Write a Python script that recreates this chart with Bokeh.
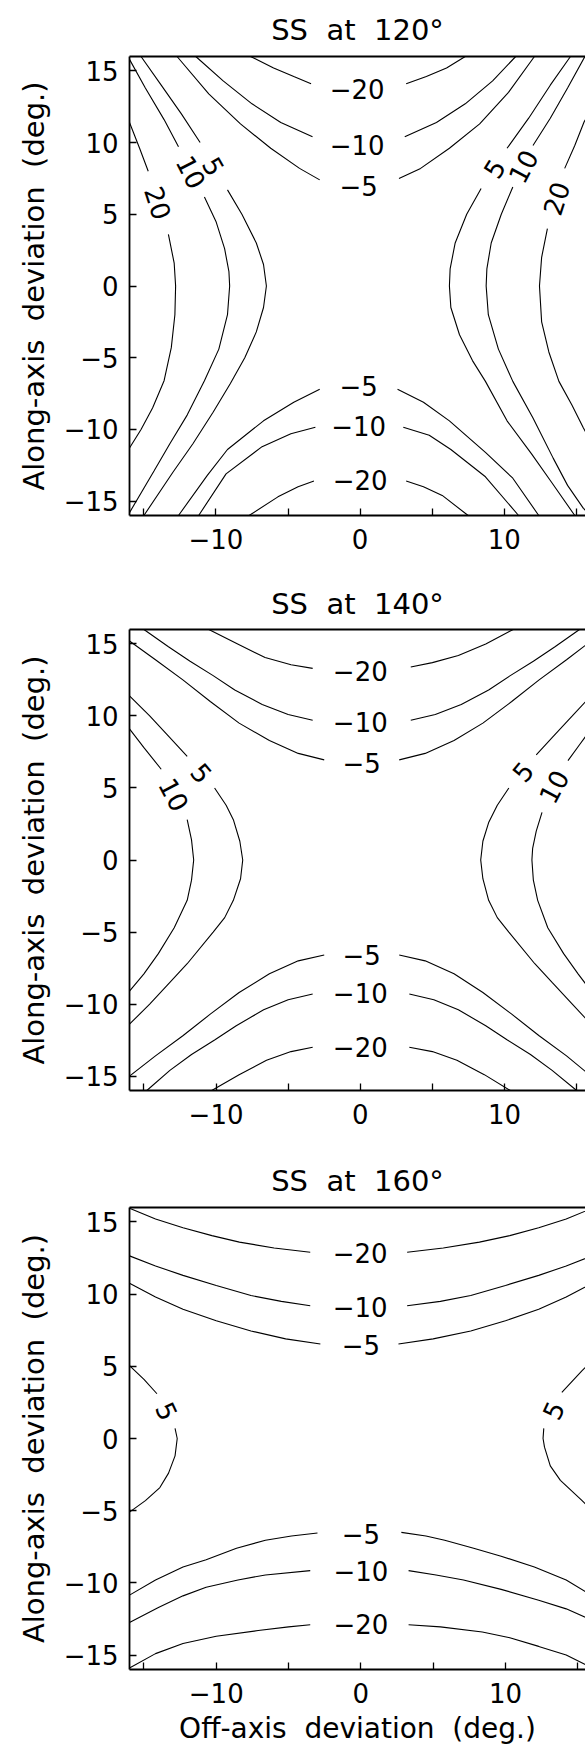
from bokeh.plotting import figure
from bokeh.layouts import column
from bokeh.models import ColumnDataSource, LinearAxis, FixedTicker, Range1d, Title
from bokeh.embed import file_html
from bokeh.resources import INLINE
from bokeh.core.properties import value

FONT = "DejaVu Sans"

# ---------------- data ----------------
TITLES = ["SS \u00a0at \u00a0120°", "SS \u00a0at \u00a0140°", "SS \u00a0at \u00a0160°"]
X_LABEL = "Off-axis \u00a0deviation \u00a0(deg.)"
Y_LABEL = "Along-axis \u00a0deviation \u00a0(deg.)"
TICKS = [-15, -10, -5, 0, 5, 10, 15]
X_TICK_TEXT = ["", "−10", "", "0", "", "10", ""]
Y_TICK_TEXT = ["−15", "−10", "−5", "0", "5", "10", "15"]

# Contour polylines (x list, y list); gaps are label gaps.
SS120_M20 = [
    ([-7.6, -6.0, -4.6, -3.4], [16.0, 15.2, 14.6, 14.1]),
    ([3.2, 4.6, 6.0, 7.3], [14.1, 14.6, 15.2, 16.0]),
    ([-7.7, -5.7, -4.3, -3.2], [-16.0, -14.7, -14.0, -13.6]),
    ([3.2, 4.4, 5.7, 7.5], [-13.6, -14.0, -14.6, -16.0]),
]
SS120_M10 = [
    ([-11.4, -9.5, -7.5, -5.5, -3.3], [16.0, 14.3, 12.7, 11.4, 10.4]),
    ([3.1, 5.3, 7.3, 9.2, 10.8], [10.4, 11.4, 12.7, 14.3, 16.0]),
    ([-11.2, -9.3, -6.8, -4.8, -3.1], [-16.0, -13.1, -11.2, -10.3, -9.85]),
    ([3.0, 4.8, 6.3, 8.7, 11.0], [-9.85, -10.4, -11.4, -13.3, -16.0]),
]
SS120_M5 = [
    ([-12.7, -10.5, -8.3, -6.2, -4.2, -2.8], [16.0, 13.4, 11.3, 9.6, 8.2, 7.4]),
    ([2.7, 4.2, 6.2, 8.3, 10.3, 12.1], [7.5, 8.2, 9.6, 11.3, 13.5, 16.0]),
    ([-12.6, -10.6, -9.2, -6.7, -4.6, -2.8], [-16.0, -13.2, -11.4, -9.4, -8.1, -7.2]),
    ([2.6, 4.4, 6.2, 8.7, 10.6, 12.4], [-7.2, -8.1, -9.4, -11.6, -13.4, -16.0]),
]
SS120_P5 = [
    ([-15.2, -13.8, -12.4, -11.1], [16.0, 14.0, 12.0, 10.0]),
    ([-9.2, -8.2, -7.2, -6.7, -6.5, -6.7, -7.2, -8.0, -9.0, -10.2, -11.6, -13.0, -15.0],
     [6.7, 5.0, 3.0, 1.5, 0.0, -1.5, -3.2, -5.0, -6.8, -8.8, -11.0, -13.0, -16.0]),
    ([14.6, 13.2, 11.7, 10.2], [16.0, 14.0, 11.7, 9.6]),
    ([8.4, 7.4, 6.6, 6.25, 6.2, 6.3, 6.9, 7.8, 8.7, 10.2, 11.9, 13.3, 14.9],
     [6.8, 5.0, 3.0, 1.2, 0.0, -1.5, -3.4, -5.2, -6.65, -9.4, -11.7, -13.7, -16.0]),
]
SS120_P10 = [
    ([-16.0, -14.9, -13.6, -12.6], [15.8, 13.8, 11.6, 9.7]),
    ([-10.8, -10.0, -9.4, -9.1, -9.05, -9.2, -9.8, -10.8, -12.0, -13.2, -14.3, -16.0],
     [6.2, 4.5, 2.6, 1.0, 0.0, -2.0, -4.4, -6.6, -9.0, -11.0, -12.9, -15.8]),
    ([15.6, 14.4, 13.2, 12.0], [16.0, 13.8, 11.7, 9.8]),
    ([10.6, 9.8, 9.1, 8.8, 8.75, 8.9, 9.6, 10.6, 12.0, 13.4, 14.4, 15.5, 16.0],
     [6.9, 5.0, 3.0, 1.2, 0.0, -2.0, -4.4, -6.65, -9.2, -12.0, -13.9, -15.5, -16.0]),
]
SS120_P20 = [
    ([-16.0, -15.3, -14.7], [11.4, 9.6, 8.0]),
    ([-13.3, -12.9, -12.8, -12.85, -13.1, -13.6, -14.4, -15.2, -16.0],
     [3.6, 1.6, 0.0, -2.0, -4.3, -6.6, -8.5, -10.0, -11.3]),
    ([16.0, 15.55, 14.9, 14.2], [12.2, 11.45, 9.8, 8.2]),
    ([13.0, 12.6, 12.45, 12.6, 13.1, 13.8, 14.7, 15.5, 16.0],
     [4.0, 2.0, 0.0, -2.5, -4.6, -6.65, -8.3, -9.9, -10.8]),
]
SS120_LABELS = [
    ("−20", -0.2, 13.75, 0), ("−10", -0.2, 9.85, 0), ("−5", -0.1, 6.95, 0),
    ("−5", -0.1, -7.0, 0), ("−10", -0.1, -9.75, 0), ("−20", 0.0, -13.5, 0),
    ("20", -14.0, 5.8, -72), ("10", -11.7, 7.95, -63), ("5", -10.15, 8.35, -60),
    ("5", 9.3, 8.2, 58), ("10", 11.3, 8.35, 62), ("20", 13.6, 6.1, 72),
]

SS140_M20 = [
    ([-10.5, -8.5, -6.6, -4.8, -3.3], [16.0, 15.0, 14.05, 13.55, 13.3]),
    ([3.5, 5.0, 6.8, 8.7, 10.6], [13.4, 13.7, 14.2, 15.0, 16.0]),
    ([-10.3, -8.4, -6.5, -4.8, -3.3], [-16.0, -14.9, -13.9, -13.3, -13.0]),
    ([3.4, 5.0, 6.7, 8.6, 10.4], [-13.0, -13.3, -13.9, -14.9, -16.0]),
]
SS140_M10 = [
    ([-15.0, -13.3, -11.8, -10.2, -8.7, -6.8, -5.0, -3.3], [16.0, 14.8, 13.8, 12.8, 11.8, 10.8, 10.1, 9.7]),
    ([3.5, 5.2, 7.0, 8.9, 10.4, 12.0, 13.5, 15.2], [9.7, 10.1, 10.8, 11.8, 12.8, 13.8, 14.8, 16.0]),
    ([-14.8, -13.2, -11.7, -10.1, -8.6, -6.7, -5.0, -3.3], [-16.0, -14.6, -13.5, -12.5, -11.5, -10.4, -9.7, -9.3]),
    ([3.4, 5.1, 6.8, 8.7, 10.2, 11.8, 13.3, 15.0], [-9.3, -9.7, -10.4, -11.5, -12.5, -13.5, -14.6, -16.0]),
]
SS140_M5 = [
    ([-16.0, -14.2, -12.3, -10.4, -8.4, -6.3, -4.3, -2.5], [15.2, 13.9, 12.5, 11.0, 9.5, 8.3, 7.4, 6.95]),
    ([2.7, 4.5, 6.5, 8.5, 10.5, 12.4, 14.3, 16.0], [6.95, 7.4, 8.3, 9.5, 11.0, 12.5, 13.9, 15.2]),
    ([-16.0, -14.2, -12.3, -10.4, -8.4, -6.3, -4.3, -2.5], [-15.0, -13.6, -12.2, -10.7, -9.2, -7.9, -7.0, -6.6]),
    ([2.7, 4.5, 6.5, 8.5, 10.5, 12.4, 14.3, 16.0], [-6.6, -7.0, -7.9, -9.2, -10.7, -12.2, -13.6, -15.0]),
]
SS140_P5 = [
    ([-16.0, -14.6, -13.2, -12.0], [11.4, 10.0, 8.5, 7.2]),
    ([-10.1, -9.3, -8.8, -8.35, -8.15, -8.3, -8.8, -9.4, -10.2, -12.0, -13.2, -14.6, -16.0],
     [5.0, 3.8, 2.8, 1.3, 0.0, -1.3, -2.8, -4.0, -5.0, -7.2, -8.5, -10.0, -11.4]),
    ([16.0, 14.7, 13.3, 12.2], [11.4, 10.0, 8.5, 7.3]),
    ([10.3, 9.5, 8.9, 8.5, 8.35, 8.5, 8.9, 9.5, 10.3, 12.1, 13.3, 14.7, 16.0],
     [5.0, 3.8, 2.6, 1.3, 0.0, -1.3, -2.8, -4.0, -5.0, -7.2, -8.5, -10.0, -11.4]),
]
SS140_P10 = [
    ([-16.0, -15.0, -13.8], [9.1, 7.8, 6.3]),
    ([-12.0, -11.7, -11.55, -11.7, -12.0, -12.9, -14.0, -15.0, -16.0],
     [2.8, 1.4, 0.0, -1.4, -2.8, -4.7, -6.5, -7.9, -9.1]),
    ([16.0, 15.2, 14.4], [9.1, 8.0, 6.9]),
    ([12.6, 12.2, 11.95, 11.9, 12.0, 12.3, 13.0, 14.1, 15.1, 16.0],
     [3.3, 2.0, 0.8, 0.0, -1.4, -2.8, -4.7, -6.5, -7.9, -9.1]),
]
SS140_LABELS = [
    ("−20", 0.0, 13.15, 0), ("−10", 0.0, 9.55, 0), ("−5", 0.1, 6.75, 0),
    ("−5", 0.1, -6.6, 0), ("−10", 0.0, -9.2, 0), ("−20", 0.0, -13.0, 0),
    ("5", -11.0, 6.05, -50), ("10", -12.9, 4.55, -62),
    ("5", 11.25, 6.15, 50), ("10", 13.4, 5.1, 62),
]

SS160_M20 = [
    ([-16.0, -14.2, -12.3, -10.3, -8.4, -6.0, -3.5], [15.95, 15.2, 14.6, 14.05, 13.6, 13.2, 12.9]),
    ([3.2, 5.7, 8.2, 10.3, 12.3, 14.2, 16.0], [12.9, 13.2, 13.6, 14.05, 14.6, 15.2, 15.95]),
    ([-16.0, -14.2, -12.3, -10.0, -7.1, -5.0, -3.5], [-15.9, -14.9, -14.2, -13.7, -13.3, -13.05, -12.9]),
    ([3.3, 5.5, 8.4, 10.3, 12.3, 14.2, 16.0], [-12.9, -13.05, -13.4, -13.8, -14.4, -15.0, -15.9]),
]
SS160_M10 = [
    ([-16.0, -14.2, -12.3, -10.0, -7.6, -5.5, -3.5], [12.65, 11.95, 11.3, 10.6, 9.9, 9.5, 9.2]),
    ([3.2, 5.5, 7.6, 10.0, 12.3, 14.2, 16.0], [9.2, 9.5, 9.9, 10.6, 11.3, 11.95, 12.65]),
    ([-16.0, -14.0, -12.3, -10.7, -8.5, -6.6, -3.5], [-12.75, -11.7, -10.9, -10.3, -9.8, -9.45, -9.15]),
    ([3.3, 5.2, 7.1, 9.7, 12.3, 14.2, 16.0], [-9.15, -9.45, -9.8, -10.45, -11.2, -11.8, -12.6]),
]
SS160_M5 = [
    ([-16.0, -14.2, -12.3, -10.0, -7.6, -5.2, -2.8], [10.75, 9.8, 8.95, 8.15, 7.45, 6.9, 6.55]),
    ([2.6, 5.0, 7.6, 10.0, 12.3, 14.2, 16.0], [6.55, 6.9, 7.45, 8.15, 8.95, 9.8, 10.75]),
    ([-16.0, -14.2, -12.3, -10.7, -8.6, -6.6, -4.8, -3.0], [-10.85, -9.8, -8.9, -8.4, -7.6, -7.05, -6.75, -6.55]),
    ([2.8, 4.5, 5.8, 7.8, 9.7, 12.0, 14.2, 16.0], [-6.5, -6.75, -7.05, -7.6, -8.15, -8.9, -9.8, -10.9]),
]
SS160_P5 = [
    ([-16.0, -15.0, -14.1], [5.05, 4.1, 3.1]),
    ([-12.85, -12.7, -12.85, -13.3, -13.9, -14.9, -16.0], [0.7, 0.0, -1.2, -2.4, -3.4, -4.3, -5.1]),
    ([16.0, 15.3, 13.9], [5.4, 4.7, 3.2]),
    ([12.65, 12.6, 12.7, 13.1, 13.8, 15.3, 16.0], [0.7, 0.0, -0.6, -1.9, -2.9, -4.3, -5.0]),
]
SS160_LABELS = [
    ("−20", -0.05, 12.85, 0), ("−10", -0.05, 9.1, 0), ("−5", 0.0, 6.45, 0),
    ("−5", 0.0, -6.6, 0), ("−10", 0.0, -9.15, 0), ("−20", 0.0, -12.85, 0),
    ("5", -13.4, 1.9, -65), ("5", 13.3, 1.95, 65),
]

PANELS = [
    (TITLES[0], [SS120_M20, SS120_M10, SS120_M5, SS120_P5, SS120_P10, SS120_P20], SS120_LABELS),
    (TITLES[1], [SS140_M20, SS140_M10, SS140_M5, SS140_P5, SS140_P10], SS140_LABELS),
    (TITLES[2], [SS160_M20, SS160_M10, SS160_M5, SS160_P5], SS160_LABELS),
]

# ---------------- layout (pixels) ----------------
LAYOUT = [
    # height, border_left, border_top, border_bottom, px_per_unit_x, title_standoff
    (575, 123, 55, 60, 14.6, 20),
    (575, 125, 54, 60, 14.55, 17),
    (602, 129, 57, 83, 14.46, 20),
]


def make_panel(i):
    title, groups, labels = PANELS[i]
    h, bl, bt, bb, ppu, tso = LAYOUT[i]
    fw = 585 - bl
    x_end = -16 + fw / ppu
    p = figure(width=585, height=h, output_backend="svg", toolbar_location=None,
               x_range=Range1d(-16, x_end), y_range=Range1d(-16, 16),
               min_border_left=bl, min_border_right=0, min_border_top=bt,
               min_border_bottom=bb, x_axis_location=None, y_axis_location=None)
    p.outline_line_color = None
    p.grid.visible = False
    p.background_fill_color = "white"
    p.border_fill_color = "white"

    p.title = Title(text=title, align="center", text_font=FONT, text_font_size="29px",
                    text_font_style="normal", text_color="black", standoff=tso)

    tick_x = dict(zip(TICKS, X_TICK_TEXT))
    tick_y = dict(zip(TICKS, Y_TICK_TEXT))

    xa = LinearAxis(ticker=FixedTicker(ticks=TICKS), major_label_overrides=tick_x)
    ya = LinearAxis(ticker=FixedTicker(ticks=TICKS), major_label_overrides=tick_y,
                    axis_label=Y_LABEL)
    top = LinearAxis(ticker=FixedTicker(ticks=[]), major_label_text_font_size="0px",
                     major_label_standoff=0)
    for ax in (xa, ya, top):
        ax.axis_line_width = 1.8
        ax.axis_line_color = "black"
        ax.major_tick_in = 7
        ax.major_tick_out = 0
        ax.major_tick_line_width = 1.3
        ax.major_tick_line_color = "black"
        ax.minor_tick_line_color = None
        ax.major_label_text_font = FONT
        ax.major_label_text_color = "black"
        ax.axis_label_text_font = FONT
        ax.axis_label_text_font_style = "normal"
        ax.axis_label_text_color = "black"
    xa.major_label_text_font_size = "26px"
    ya.major_label_text_font_size = "26px"
    xa.major_label_standoff = 13
    ya.major_label_standoff = 11
    ya.axis_label_text_font_size = "29px"
    ya.axis_label_standoff = 10
    if i == 2:
        xa.axis_label = X_LABEL
        xa.axis_label_text_font_size = "28px"
        xa.axis_label_standoff = 6
    p.add_layout(xa, "below")
    p.add_layout(ya, "left")
    p.add_layout(top, "above")

    xs, ys = [], []
    for g in groups:
        for (lx, ly) in g:
            xs.append(lx)
            ys.append(ly)
    p.multi_line(xs="xs", ys="ys", source=ColumnDataSource(dict(xs=xs, ys=ys)),
                 line_color="black", line_width=1.1)

    src = ColumnDataSource(dict(
        t=[l[0] for l in labels], x=[l[1] for l in labels],
        y=[l[2] for l in labels], a=[l[3] for l in labels]))
    p.text(x="x", y="y", text="t", angle="a", angle_units="deg", source=src,
           text_font=value(FONT), text_font_size="26px", text_align="center",
           text_baseline="middle", text_color="black")
    return p


figs = [make_panel(i) for i in range(3)]
layout = column(*figs, spacing=0)
open("out.html", "w").write(file_html(layout, INLINE))
